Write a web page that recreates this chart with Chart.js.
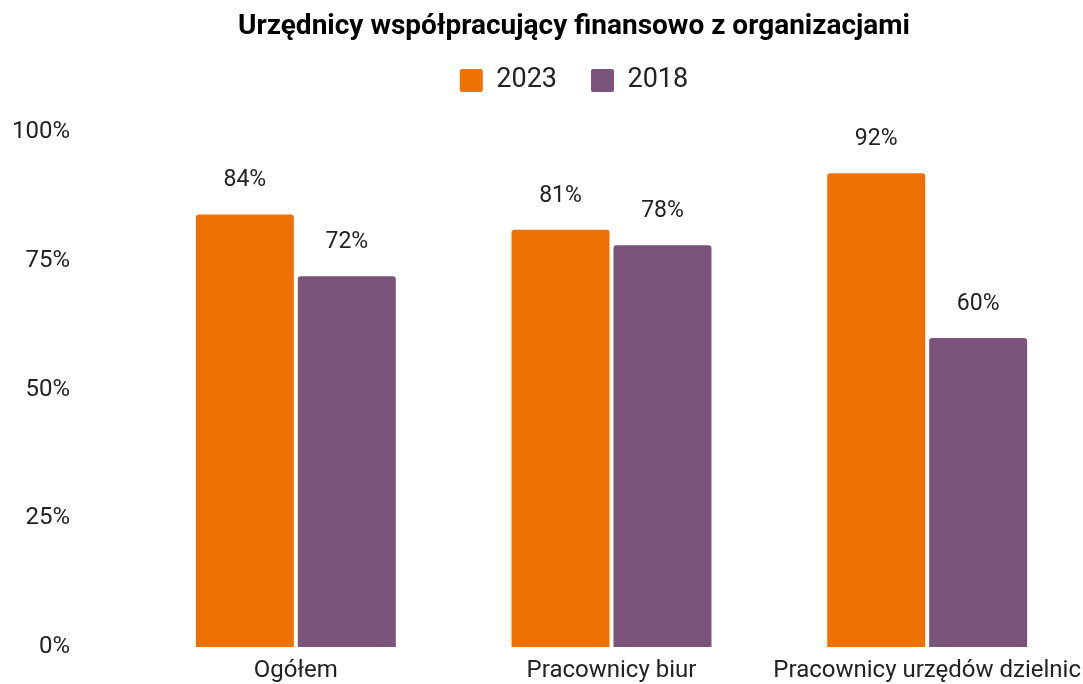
<!DOCTYPE html>
<html>
<head>
<meta charset="utf-8">
<script src="https://cdn.jsdelivr.net/npm/chart.js@4"></script>
<style>
  html, body { margin: 0; padding: 0; background: #fff; overflow: hidden; }
  #wrap { width: 1148px; height: 684px; }
</style>
</head>
<body>
<div id="wrap"><canvas id="chart"></canvas></div>
<script>
// dane z wykresu
const categories = ['Ogółem', 'Pracownicy biur', 'Pracownicy urzędów dzielnic'];
const values2023 = [84, 81, 92];
const values2018 = [72, 78, 60];
const yTicks = [0, 25, 50, 75, 100];

const colors = { y2023: '#EE7203', y2018: '#7B5279' };
const fontFamily = 'Roboto, "Liberation Sans", Arial, sans-serif';

// etykiety wartości nad słupkami
const valueLabels = {
    id: 'valueLabels',
    afterDatasetsDraw(chart) {
        const ctx = chart.ctx;
        ctx.save();
        ctx.font = '23px ' + fontFamily;
        ctx.fillStyle = '#222';
        ctx.textAlign = 'center';
        ctx.textBaseline = 'alphabetic';
        chart.data.datasets.forEach((ds, i) => {
            chart.getDatasetMeta(i).data.forEach((bar, j) => {
                ctx.fillText(ds.data[j] + '%', bar.x, bar.y - 28);
            });
        });
        ctx.restore();
    }
};

const ctx = document.getElementById('chart').getContext('2d');
const myChart = new Chart(ctx, {
    type: 'bar',
    data: {
        labels: categories,
        datasets: [
            { label: '2023', data: values2023, backgroundColor: colors.y2023, borderRadius: 3 },
            { label: '2018', data: values2018, backgroundColor: colors.y2018, borderRadius: 3 }
        ]
    },
    options: {
        responsive: true,
        maintainAspectRatio: false,
        animation: false,
        categoryPercentage: 0.646,
        barPercentage: 0.961,
        layout: { padding: 0 },
        plugins: {
            title: {
                display: true,
                text: 'Urzędnicy współpracujący finansowo z organizacjami',
                color: '#000',
                font: { family: fontFamily, size: 28, weight: 'bold', lineHeight: 1 },
                padding: { top: 13, bottom: -8 }
            },
            // pusty odstęp między legendą a wykresem
            subtitle: {
                display: true,
                text: '',
                weight: 500,
                font: { size: 28, lineHeight: 1 },
                padding: 0
            },
            legend: {
                position: 'top',
                labels: {
                    color: '#222',
                    font: { family: fontFamily, size: 27 },
                    boxWidth: 23,
                    boxHeight: 23,
                    useBorderRadius: true,
                    borderRadius: 2,
                    padding: 34
                }
            },
            tooltip: { enabled: false }
        },
        scales: {
            x: {
                grid: { display: false, drawTicks: false },
                border: { display: false },
                afterFit: scale => { scale.height = 37; },
                ticks: {
                    color: '#222',
                    font: { family: fontFamily, size: 24 },
                    padding: 10,
                    maxRotation: 0,
                    autoSkip: false
                }
            },
            y: {
                min: 0,
                max: 100,
                // odstęp etykiet robi tickLength, bo ticks.padding powiększa margines pionowy
                grid: { display: false, drawTicks: true, tickLength: 68 },
                border: { display: false },
                afterBuildTicks: scale => { scale.ticks = yTicks.map(v => ({ value: v })); },
                afterFit: scale => { scale.width = 138; },
                ticks: {
                    color: '#222',
                    font: { family: fontFamily, size: 24 },
                    padding: 0,
                    callback: v => v + '%'
                }
            },
            // pusta oś po prawej, żeby zostawić miejsce jak w oryginale
            right: {
                position: 'right',
                display: true,
                grid: { display: false, drawTicks: false },
                border: { display: false },
                ticks: { display: false, padding: 0 },
                afterFit: scale => { scale.width = 63; }
            }
        }
    },
    plugins: [valueLabels]
});
</script>
</body>
</html>
